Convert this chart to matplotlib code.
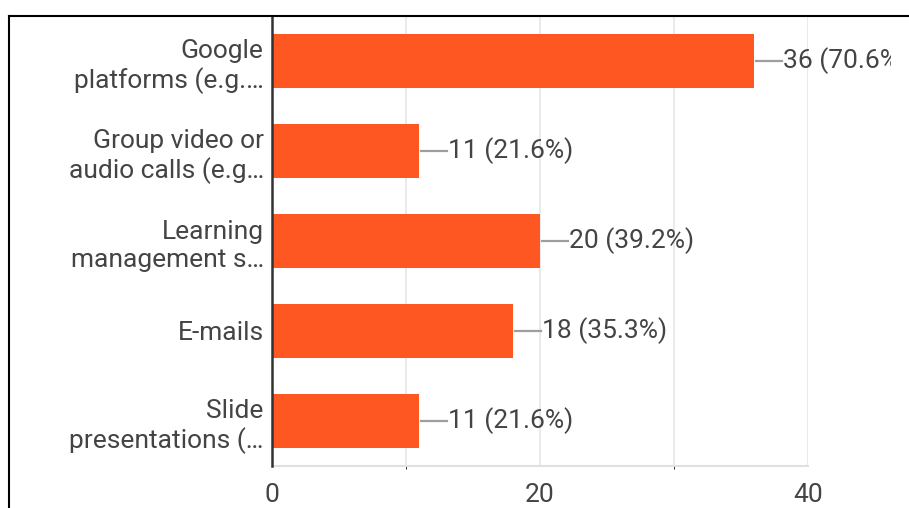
import matplotlib
matplotlib.use("Agg")
import matplotlib.pyplot as plt
from matplotlib.lines import Line2D
from matplotlib.transforms import Bbox

categories = [
    "Google\nplatforms (e.g.\u2026",
    "Group video or\naudio calls (e.g\u2026",
    "Learning\nmanagement s\u2026",
    "E-mails",
    "Slide\npresentations (\u2026",
]
counts = [36, 11, 20, 18, 11]
percents = [70.6, 21.6, 39.2, 35.3, 21.6]
xticks = [0, 20, 40]

bar_color = "#FF5722"
text_color = "#444444"
fs = 19

plt.rcParams["font.family"] = ["Roboto", "DejaVu Sans"]

W, H = 909, 508
fig = plt.figure(figsize=(W / 100, H / 100), dpi=100)
ax = fig.add_axes([272 / W, 1 - 466 / H, (808 - 272) / W, (466 - 16) / H])

ypos = list(range(len(categories)))
ax.barh(ypos, counts, height=0.6, color=bar_color, zorder=2)
ax.set_ylim(len(categories) - 0.5, -0.5)
ax.set_xlim(0, 40)

ax.set_yticks(ypos)
ax.set_yticklabels(categories, fontsize=fs, color=text_color, linespacing=1.22)
ax.set_xticks(xticks)
ax.set_xticklabels([str(t) for t in xticks], fontsize=fs, color=text_color)
ax.tick_params(axis="both", length=0)
ax.tick_params(axis="y", pad=6)
ax.tick_params(axis="x", pad=12)

# light vertical grid every 10
ax.set_xticks([10, 20, 30, 40], minor=True)
ax.grid(axis="x", which="both", color="#e6e6e6", linewidth=1.2, zorder=0)

for side in ["top", "right"]:
    ax.spines[side].set_visible(False)
ax.spines["bottom"].set_color("#e0e0e0")
ax.spines["bottom"].set_linewidth(1.5)
ax.spines["left"].set_color("#333333")
ax.spines["left"].set_linewidth(1.8)
ax.spines["left"].set_zorder(3)

# the chart area cuts off anything past this x (pixels)
clip = Bbox.from_extents(0, 0, 891, H)

px = 40 / (808 - 272)
for y, c, p in zip(ypos, counts, percents):
    ax.plot([c + 2 * px, c + 28 * px], [y, y], color="#9e9e9e", linewidth=1.6,
            clip_on=False, zorder=3)
    t = ax.text(c + 29 * px, y, f"{c} ({p}%)", fontsize=fs, color=text_color,
                va="center", ha="left", clip_on=True)
    t.set_clip_box(clip)

# outer frame
fig.add_artist(Line2D([9 / W, 9 / W], [0, 1 - 16 / H], color="black",
                      linewidth=1.5, transform=fig.transFigure))
fig.add_artist(Line2D([9 / W, 1], [1 - 16 / H, 1 - 16 / H], color="black",
                      linewidth=1.5, transform=fig.transFigure))

fig.savefig("out.png", dpi=100)
